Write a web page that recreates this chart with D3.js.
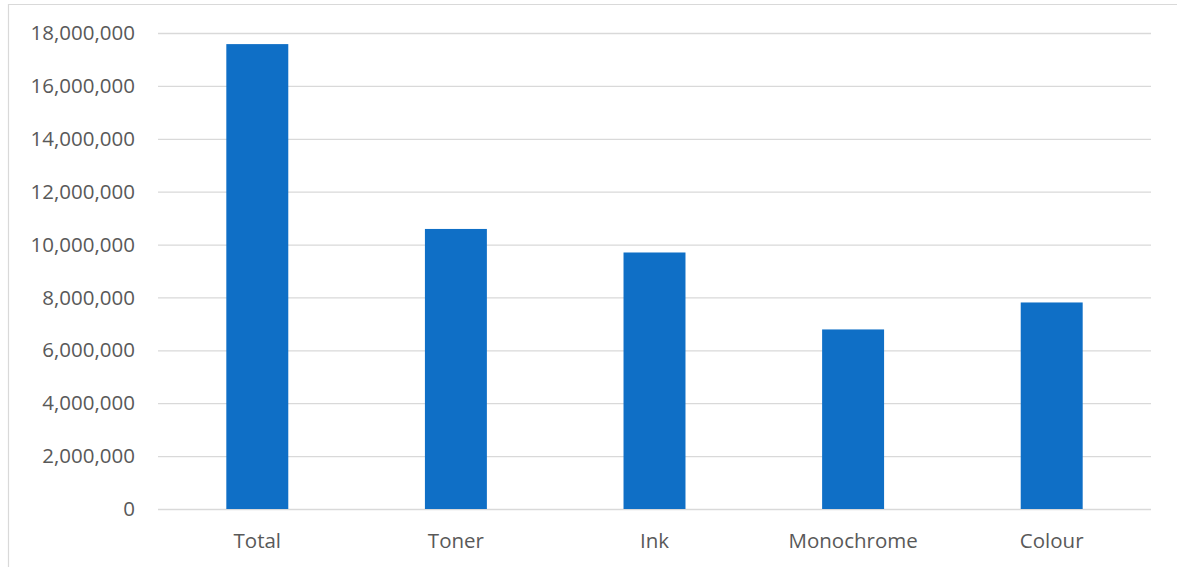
<!DOCTYPE html>
<html><head><meta charset="utf-8">
<script src="https://cdn.jsdelivr.net/npm/d3@7"></script>
<style>body{margin:0;background:#fff;}svg{display:block;}</style>
</head><body>
<svg id="c" width="1177" height="567"></svg>
<script>
const categories = ["Total", "Toner", "Ink", "Monochrome", "Colour"];
const values = [17580000, 10590000, 9700000, 6790000, 7810000];
const yTicks = [0, 2000000, 4000000, 6000000, 8000000, 10000000, 12000000, 14000000, 16000000, 18000000];

const svg = d3.select("#c");
const font = "'Open Sans', 'Noto Sans', sans-serif";
// chart border
svg.append("path").attr("d", "M8.5,567 V4.5 H1177").attr("fill", "none").attr("stroke", "#d9d9d9").attr("stroke-width", 1.2);

const x = d3.scaleBand().domain(categories).range([158, 1151]).paddingInner(0.688).paddingOuter(0.344);
const y = d3.scaleLinear().domain([0, 18000000]).range([509, 33]);

const yAxis = d3.axisLeft(y).tickValues(yTicks).tickFormat(d3.format(",")).tickSize(-(1151 - 158)).tickPadding(23);
const gy = svg.append("g").attr("transform", "translate(158,0)").call(yAxis);
gy.select(".domain").remove();
gy.selectAll(".tick line").attr("stroke", "#d9d9d9").attr("stroke-width", 1.3);
gy.selectAll(".tick text").attr("fill", "#595959").style("font-family", font).style("font-size", "20.5px");

svg.append("g").selectAll("rect").data(values).join("rect")
  .attr("x", (d, i) => x(categories[i]))
  .attr("width", x.bandwidth())
  .attr("y", d => y(d))
  .attr("height", d => y(0) - y(d))
  .attr("fill", "#0F6FC6");

const xAxis = d3.axisBottom(x).tickSize(0).tickPadding(24);
const gx = svg.append("g").attr("transform", "translate(0,509)").call(xAxis);
gx.select(".domain").remove();
gx.selectAll(".tick text").attr("fill", "#595959").style("font-family", font).style("font-size", "20.5px");
</script>
</body></html>
